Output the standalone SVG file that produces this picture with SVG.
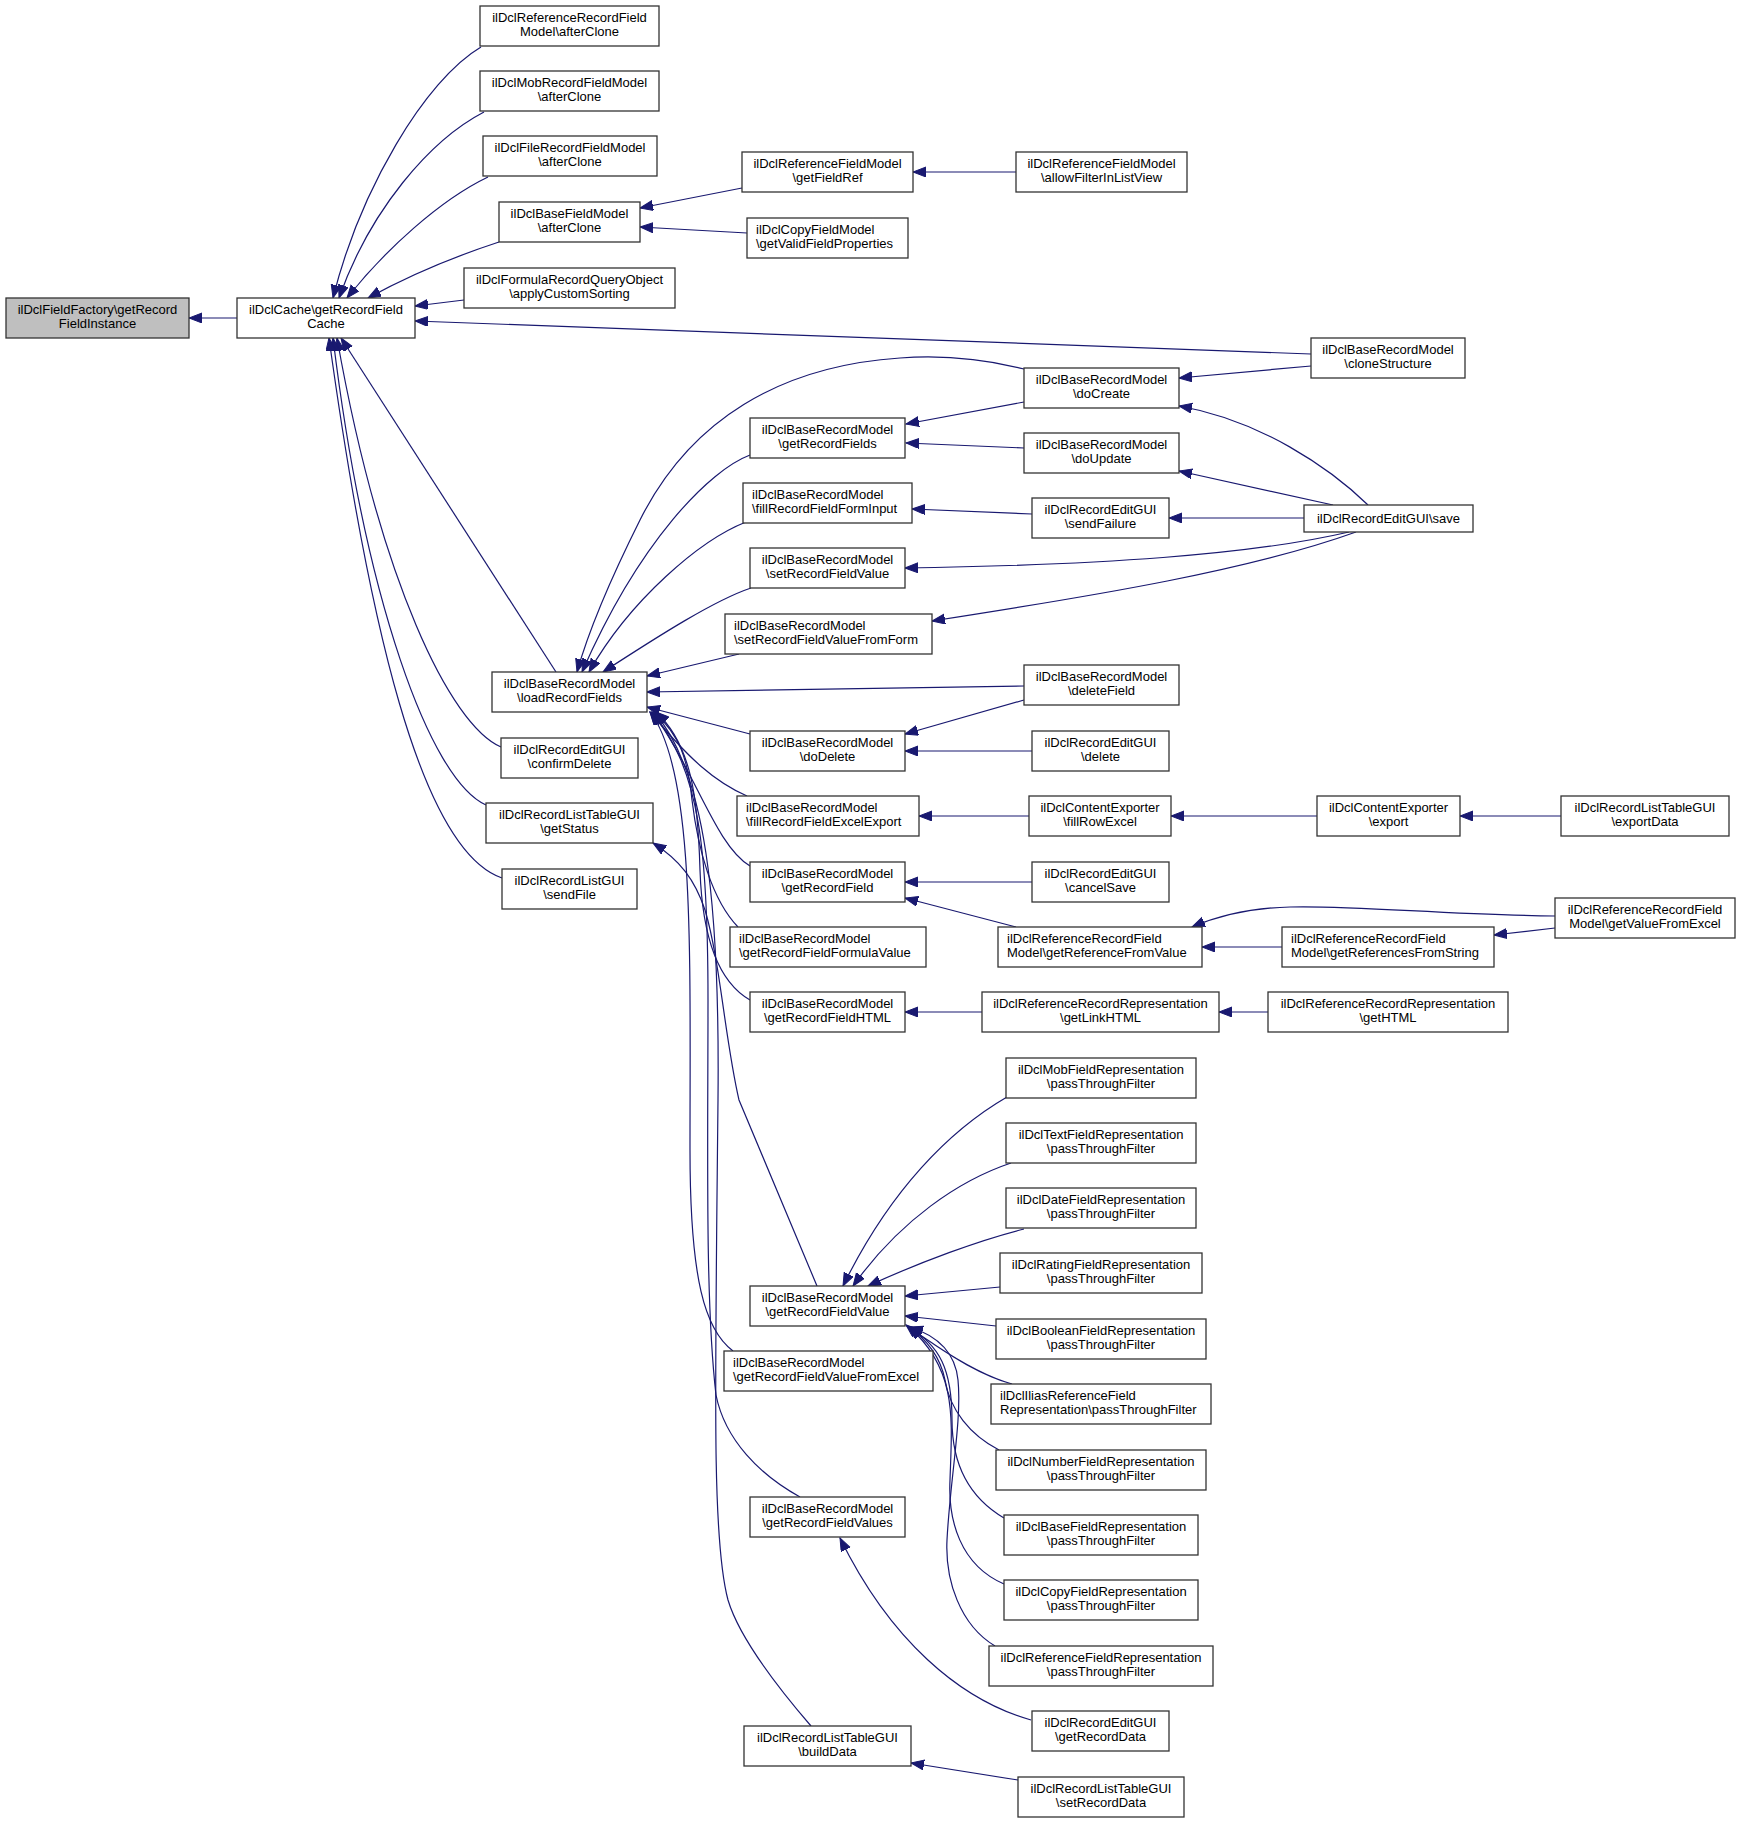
<svg xmlns="http://www.w3.org/2000/svg" width="1739" height="1823" viewBox="0 0 1739 1823">
<defs>
<marker id="a" markerUnits="userSpaceOnUse" markerWidth="14" markerHeight="11" refX="13" refY="5" orient="auto">
<path d="M0,0 L13,5 L0,10 z" fill="#191970" stroke="#191970" stroke-width="1"/>
</marker>
</defs>
<style>
rect{fill:#fff;stroke:#333;stroke-width:1.3}
rect.g{fill:#bfbfbf}
text{font-family:"Liberation Sans",Arial,Helvetica,sans-serif;font-size:13px;fill:#000}
text.c{text-anchor:middle}
tspan.b{dy:0}
#edges path{fill:none;stroke:#191970;stroke-width:1.2;marker-end:url(#a)}
</style>
<rect x="0" y="0" width="1739" height="1823" style="fill:#fff;stroke:none"/>
<g id="edges">
<path d="M237,318 L189,318"/>
<path d="M481,47 C425,80 360,190 333,298"/>
<path d="M484,112 C430,140 370,210 339,298"/>
<path d="M488,177 C440,200 385,250 347,298"/>
<path d="M499,242 C450,258 410,275 368,298"/>
<path d="M464,300 L415,306"/>
<path d="M1311,354 L415,321"/>
<path d="M556,672 L341,338"/>
<path d="M501,747 C450,725 380,580 337,338"/>
<path d="M486,805 C430,780 365,600 333,338"/>
<path d="M502,878 C420,850 368,620 329,338"/>
<path d="M742,188 L640,208"/>
<path d="M747,233 L640,227"/>
<path d="M1016,172 L913,172"/>
<path d="M750,455 C710,470 640,540 582,672"/>
<path d="M1024,369 C980,358 940,355 900,358 C780,366 690,420 640,520 C605,590 586,640 577,672"/>
<path d="M746,522 C700,540 630,600 589,672"/>
<path d="M751,588 C715,600 660,635 603,672"/>
<path d="M739,654 L647,676"/>
<path d="M1024,686 L647,692"/>
<path d="M750,734 L647,707"/>
<path d="M747,796 C715,782 690,760 650,712"/>
<path d="M750,866 C715,845 695,770 652,712"/>
<path d="M738,927 C712,900 698,850 692,800 C688,760 680,735 654,712"/>
<path d="M750,1000 C715,980 702,930 700,870 C698,800 692,745 656,712"/>
<path d="M733,1351 C705,1330 690,1280 690,1150 C690,950 695,770 650,712"/>
<path d="M800,1497 C760,1475 725,1440 716,1395 C705,1300 708,1150 708,1000 C708,850 700,770 652,712"/>
<path d="M811,1726 C780,1690 740,1640 728,1600 C712,1540 715,1400 718,1100 C720,900 705,770 654,712"/>
<path d="M817,1286 L739,1100 C725,1040 720,960 705,910 C695,880 680,860 653,843"/>
<path d="M1024,402 L906,424"/>
<path d="M1024,448 L906,443"/>
<path d="M1032,514 L912,509"/>
<path d="M1349,532 C1250,555 1100,565 905,568"/>
<path d="M1356,532 C1250,570 1100,595 932,621"/>
<path d="M1304,518 L1169,518"/>
<path d="M1333,505 L1179,471"/>
<path d="M1368,505 C1330,468 1260,420 1179,406"/>
<path d="M1311,366 L1179,378"/>
<path d="M1024,700 L905,734"/>
<path d="M1032,751 L905,751"/>
<path d="M1029,816 L919,816"/>
<path d="M1317,816 L1171,816"/>
<path d="M1561,816 L1460,816"/>
<path d="M1032,882 L905,882"/>
<path d="M1016,927 L905,898"/>
<path d="M1282,947 L1202,947"/>
<path d="M1555,928 L1494,935"/>
<path d="M1555,916 C1450,915 1350,905 1290,907 C1250,908 1220,915 1192,927"/>
<path d="M1268,1012 L1219,1012"/>
<path d="M982,1012 L905,1012"/>
<path d="M1007,1097 C950,1130 890,1190 843,1286"/>
<path d="M1011,1163 C960,1180 900,1220 853,1286"/>
<path d="M1024,1229 C980,1240 920,1262 868,1286"/>
<path d="M1000,1287 L905,1296"/>
<path d="M996,1326 L905,1316"/>
<path d="M1012,1384 C980,1375 950,1355 935,1345 C920,1335 912,1330 906,1325"/>
<path d="M999,1450 C970,1435 950,1410 945,1380 C940,1355 925,1338 907,1326"/>
<path d="M1004,1518 C965,1495 952,1460 952,1420 C952,1370 940,1345 908,1327"/>
<path d="M1004,1584 C960,1565 948,1520 950,1480 C952,1420 958,1370 909,1327"/>
<path d="M995,1646 C960,1625 945,1580 947,1540 C950,1480 962,1420 958,1380 C955,1350 935,1335 910,1327"/>
<path d="M1031,1720 C960,1700 890,1640 840,1538"/>
<path d="M1018,1780 L911,1763"/>
</g>
<g id="n0"><rect class="g" x="6" y="298" width="183" height="40"/><text class="c"><tspan x="97.5" y="314">ilDclFieldFactory\getRecord</tspan><tspan x="97.5" y="327.5">FieldInstance</tspan></text></g>
<g id="n1"><rect x="237" y="298" width="178" height="40"/><text class="c"><tspan x="326" y="314">ilDclCache\getRecordField</tspan><tspan x="326" y="327.5">Cache</tspan></text></g>
<g id="n2"><rect x="480" y="6" width="179" height="40"/><text class="c"><tspan x="569.5" y="22">ilDclReferenceRecordField</tspan><tspan x="569.5" y="35.5">Model\afterClone</tspan></text></g>
<g id="n3"><rect x="480" y="71" width="179" height="40"/><text class="c"><tspan x="569.5" y="87">ilDclMobRecordFieldModel</tspan><tspan x="569.5" y="100.5">\afterClone</tspan></text></g>
<g id="n4"><rect x="483" y="136" width="174" height="40"/><text class="c"><tspan x="570" y="152">ilDclFileRecordFieldModel</tspan><tspan x="570" y="165.5">\afterClone</tspan></text></g>
<g id="n5"><rect x="499" y="202" width="141" height="40"/><text class="c"><tspan x="569.5" y="218">ilDclBaseFieldModel</tspan><tspan x="569.5" y="231.5">\afterClone</tspan></text></g>
<g id="n6"><rect x="464" y="268" width="211" height="40"/><text class="c"><tspan x="569.5" y="284">ilDclFormulaRecordQueryObject</tspan><tspan x="569.5" y="297.5">\applyCustomSorting</tspan></text></g>
<g id="n7"><rect x="492" y="672" width="155" height="40"/><text class="c"><tspan x="569.5" y="688">ilDclBaseRecordModel</tspan><tspan x="569.5" y="701.5">\loadRecordFields</tspan></text></g>
<g id="n8"><rect x="501" y="738" width="137" height="40"/><text class="c"><tspan x="569.5" y="754">ilDclRecordEditGUI</tspan><tspan x="569.5" y="767.5">\confirmDelete</tspan></text></g>
<g id="n9"><rect x="486" y="803" width="167" height="40"/><text class="c"><tspan x="569.5" y="819">ilDclRecordListTableGUI</tspan><tspan x="569.5" y="832.5">\getStatus</tspan></text></g>
<g id="n10"><rect x="502" y="869" width="135" height="40"/><text class="c"><tspan x="569.5" y="885">ilDclRecordListGUI</tspan><tspan x="569.5" y="898.5">\sendFile</tspan></text></g>
<g id="n11"><rect x="742" y="152" width="171" height="40"/><text class="c"><tspan x="827.5" y="168">ilDclReferenceFieldModel</tspan><tspan x="827.5" y="181.5">\getFieldRef</tspan></text></g>
<g id="n12"><rect x="747" y="218" width="161" height="40"/><text><tspan x="756" y="234">ilDclCopyFieldModel</tspan><tspan x="756" y="247.5">\getValidFieldProperties</tspan></text></g>
<g id="n13"><rect x="750" y="418" width="155" height="40"/><text class="c"><tspan x="827.5" y="434">ilDclBaseRecordModel</tspan><tspan x="827.5" y="447.5">\getRecordFields</tspan></text></g>
<g id="n14"><rect x="743" y="483" width="169" height="40"/><text><tspan x="752" y="499">ilDclBaseRecordModel</tspan><tspan x="752" y="512.5">\fillRecordFieldFormInput</tspan></text></g>
<g id="n15"><rect x="750" y="548" width="155" height="40"/><text class="c"><tspan x="827.5" y="564">ilDclBaseRecordModel</tspan><tspan x="827.5" y="577.5">\setRecordFieldValue</tspan></text></g>
<g id="n16"><rect x="725" y="614" width="207" height="40"/><text><tspan x="734" y="630">ilDclBaseRecordModel</tspan><tspan x="734" y="643.5">\setRecordFieldValueFromForm</tspan></text></g>
<g id="n17"><rect x="750" y="731" width="155" height="40"/><text class="c"><tspan x="827.5" y="747">ilDclBaseRecordModel</tspan><tspan x="827.5" y="760.5">\doDelete</tspan></text></g>
<g id="n18"><rect x="737" y="796" width="182" height="40"/><text><tspan x="746" y="812">ilDclBaseRecordModel</tspan><tspan x="746" y="825.5">\fillRecordFieldExcelExport</tspan></text></g>
<g id="n19"><rect x="750" y="862" width="155" height="40"/><text class="c"><tspan x="827.5" y="878">ilDclBaseRecordModel</tspan><tspan x="827.5" y="891.5">\getRecordField</tspan></text></g>
<g id="n20"><rect x="730" y="927" width="196" height="40"/><text><tspan x="739" y="943">ilDclBaseRecordModel</tspan><tspan x="739" y="956.5">\getRecordFieldFormulaValue</tspan></text></g>
<g id="n21"><rect x="750" y="992" width="155" height="40"/><text class="c"><tspan x="827.5" y="1008">ilDclBaseRecordModel</tspan><tspan x="827.5" y="1021.5">\getRecordFieldHTML</tspan></text></g>
<g id="n22"><rect x="750" y="1286" width="155" height="40"/><text class="c"><tspan x="827.5" y="1302">ilDclBaseRecordModel</tspan><tspan x="827.5" y="1315.5">\getRecordFieldValue</tspan></text></g>
<g id="n23"><rect x="724" y="1351" width="209" height="40"/><text><tspan x="733" y="1367">ilDclBaseRecordModel</tspan><tspan x="733" y="1380.5">\getRecordFieldValueFromExcel</tspan></text></g>
<g id="n24"><rect x="750" y="1497" width="155" height="40"/><text class="c"><tspan x="827.5" y="1513">ilDclBaseRecordModel</tspan><tspan x="827.5" y="1526.5">\getRecordFieldValues</tspan></text></g>
<g id="n25"><rect x="744" y="1726" width="167" height="40"/><text class="c"><tspan x="827.5" y="1742">ilDclRecordListTableGUI</tspan><tspan x="827.5" y="1755.5">\buildData</tspan></text></g>
<g id="n26"><rect x="1016" y="152" width="171" height="40"/><text class="c"><tspan x="1101.5" y="168">ilDclReferenceFieldModel</tspan><tspan x="1101.5" y="181.5">\allowFilterInListView</tspan></text></g>
<g id="n27"><rect x="1024" y="368" width="155" height="40"/><text class="c"><tspan x="1101.5" y="384">ilDclBaseRecordModel</tspan><tspan x="1101.5" y="397.5">\doCreate</tspan></text></g>
<g id="n28"><rect x="1024" y="433" width="155" height="40"/><text class="c"><tspan x="1101.5" y="449">ilDclBaseRecordModel</tspan><tspan x="1101.5" y="462.5">\doUpdate</tspan></text></g>
<g id="n29"><rect x="1032" y="498" width="137" height="40"/><text class="c"><tspan x="1100.5" y="514">ilDclRecordEditGUI</tspan><tspan x="1100.5" y="527.5">\sendFailure</tspan></text></g>
<g id="n30"><rect x="1024" y="665" width="155" height="40"/><text class="c"><tspan x="1101.5" y="681">ilDclBaseRecordModel</tspan><tspan x="1101.5" y="694.5">\deleteField</tspan></text></g>
<g id="n31"><rect x="1032" y="731" width="137" height="40"/><text class="c"><tspan x="1100.5" y="747">ilDclRecordEditGUI</tspan><tspan x="1100.5" y="760.5">\delete</tspan></text></g>
<g id="n32"><rect x="1029" y="796" width="142" height="40"/><text class="c"><tspan x="1100" y="812">ilDclContentExporter</tspan><tspan x="1100" y="825.5">\fillRowExcel</tspan></text></g>
<g id="n33"><rect x="1032" y="862" width="137" height="40"/><text class="c"><tspan x="1100.5" y="878">ilDclRecordEditGUI</tspan><tspan x="1100.5" y="891.5">\cancelSave</tspan></text></g>
<g id="n34"><rect x="998" y="927" width="204" height="40"/><text><tspan x="1007" y="943">ilDclReferenceRecordField</tspan><tspan x="1007" y="956.5">Model\getReferenceFromValue</tspan></text></g>
<g id="n35"><rect x="982" y="992" width="237" height="40"/><text class="c"><tspan x="1100.5" y="1008">ilDclReferenceRecordRepresentation</tspan><tspan x="1100.5" y="1021.5">\getLinkHTML</tspan></text></g>
<g id="n36"><rect x="1006" y="1058" width="190" height="40"/><text class="c"><tspan x="1101" y="1074">ilDclMobFieldRepresentation</tspan><tspan x="1101" y="1087.5">\passThroughFilter</tspan></text></g>
<g id="n37"><rect x="1006" y="1123" width="190" height="40"/><text class="c"><tspan x="1101" y="1139">ilDclTextFieldRepresentation</tspan><tspan x="1101" y="1152.5">\passThroughFilter</tspan></text></g>
<g id="n38"><rect x="1006" y="1188" width="190" height="40"/><text class="c"><tspan x="1101" y="1204">ilDclDateFieldRepresentation</tspan><tspan x="1101" y="1217.5">\passThroughFilter</tspan></text></g>
<g id="n39"><rect x="1000" y="1253" width="202" height="40"/><text class="c"><tspan x="1101" y="1269">ilDclRatingFieldRepresentation</tspan><tspan x="1101" y="1282.5">\passThroughFilter</tspan></text></g>
<g id="n40"><rect x="996" y="1319" width="210" height="40"/><text class="c"><tspan x="1101" y="1335">ilDclBooleanFieldRepresentation</tspan><tspan x="1101" y="1348.5">\passThroughFilter</tspan></text></g>
<g id="n41"><rect x="991" y="1384" width="220" height="40"/><text><tspan x="1000" y="1400">ilDclIliasReferenceField</tspan><tspan x="1000" y="1413.5">Representation\passThroughFilter</tspan></text></g>
<g id="n42"><rect x="996" y="1450" width="210" height="40"/><text class="c"><tspan x="1101" y="1466">ilDclNumberFieldRepresentation</tspan><tspan x="1101" y="1479.5">\passThroughFilter</tspan></text></g>
<g id="n43"><rect x="1004" y="1515" width="194" height="40"/><text class="c"><tspan x="1101" y="1531">ilDclBaseFieldRepresentation</tspan><tspan x="1101" y="1544.5">\passThroughFilter</tspan></text></g>
<g id="n44"><rect x="1004" y="1580" width="194" height="40"/><text class="c"><tspan x="1101" y="1596">ilDclCopyFieldRepresentation</tspan><tspan x="1101" y="1609.5">\passThroughFilter</tspan></text></g>
<g id="n45"><rect x="989" y="1646" width="224" height="40"/><text class="c"><tspan x="1101" y="1662">ilDclReferenceFieldRepresentation</tspan><tspan x="1101" y="1675.5">\passThroughFilter</tspan></text></g>
<g id="n46"><rect x="1032" y="1711" width="137" height="40"/><text class="c"><tspan x="1100.5" y="1727">ilDclRecordEditGUI</tspan><tspan x="1100.5" y="1740.5">\getRecordData</tspan></text></g>
<g id="n47"><rect x="1018" y="1777" width="166" height="40"/><text class="c"><tspan x="1101" y="1793">ilDclRecordListTableGUI</tspan><tspan x="1101" y="1806.5">\setRecordData</tspan></text></g>
<g id="n48"><rect x="1311" y="338" width="154" height="40"/><text class="c"><tspan x="1388" y="354">ilDclBaseRecordModel</tspan><tspan x="1388" y="367.5">\cloneStructure</tspan></text></g>
<g id="n49"><rect x="1304" y="505" width="169" height="27"/><text class="c"><tspan x="1388.5" y="522.5">ilDclRecordEditGUI\save</tspan></text></g>
<g id="n50"><rect x="1317" y="796" width="143" height="40"/><text class="c"><tspan x="1388.5" y="812">ilDclContentExporter</tspan><tspan x="1388.5" y="825.5">\export</tspan></text></g>
<g id="n51"><rect x="1282" y="927" width="212" height="40"/><text><tspan x="1291" y="943">ilDclReferenceRecordField</tspan><tspan x="1291" y="956.5">Model\getReferencesFromString</tspan></text></g>
<g id="n52"><rect x="1268" y="992" width="240" height="40"/><text class="c"><tspan x="1388" y="1008">ilDclReferenceRecordRepresentation</tspan><tspan x="1388" y="1021.5">\getHTML</tspan></text></g>
<g id="n53"><rect x="1561" y="796" width="168" height="40"/><text class="c"><tspan x="1645" y="812">ilDclRecordListTableGUI</tspan><tspan x="1645" y="825.5">\exportData</tspan></text></g>
<g id="n54"><rect x="1555" y="898" width="180" height="40"/><text class="c"><tspan x="1645" y="914">ilDclReferenceRecordField</tspan><tspan x="1645" y="927.5">Model\getValueFromExcel</tspan></text></g>
</svg>
